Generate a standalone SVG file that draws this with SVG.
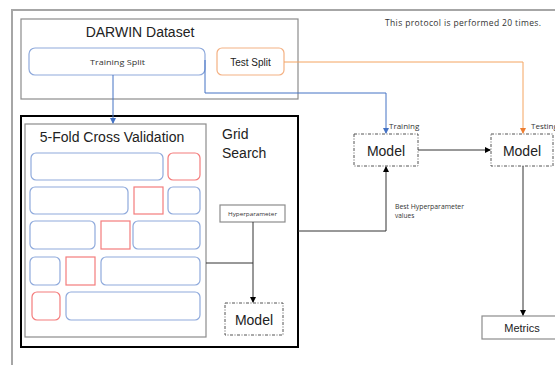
<svg xmlns="http://www.w3.org/2000/svg" width="555" height="365" viewBox="0 0 555 365">
  <defs>
    <marker id="ah-blue" markerWidth="6" markerHeight="6" refX="5" refY="3" orient="auto" markerUnits="userSpaceOnUse">
      <path d="M0,0 L6,3 L0,6 Z" fill="#4472c4"/>
    </marker>
    <marker id="ah-orange" markerWidth="6" markerHeight="6" refX="5" refY="3" orient="auto" markerUnits="userSpaceOnUse">
      <path d="M0,0 L6,3 L0,6 Z" fill="#ed7d31"/>
    </marker>
    <marker id="ah-black" markerWidth="6" markerHeight="6" refX="5" refY="3" orient="auto" markerUnits="userSpaceOnUse">
      <path d="M0,0 L6,3 L0,6 Z" fill="#000"/>
    </marker>
  </defs>
  <style>
    text { font-family: "Liberation Sans", Arial, sans-serif; fill: #222; }
    .small { font-family: "Open Sans", "Liberation Sans", sans-serif; fill: #333; }
    .frame { fill: none; stroke: #a6a6a6; stroke-width: 2; }
    .gray { fill: #fff; stroke: #8c8c8c; stroke-width: 1.2; }
    .fold-b { fill: #fff; stroke: #8faadc; stroke-width: 1.2; }
    .fold-r { fill: #fff; stroke: #f47c7c; stroke-width: 1.2; }
    .dash { fill: #fff; stroke: #555; stroke-width: 1; stroke-dasharray: 3 1.5 1 1.5; }
    .c-blue { fill: none; stroke: #4472c4; stroke-width: 1; }
    .c-orange { fill: none; stroke: #f4a460; stroke-width: 1; }
    .c-black { fill: none; stroke: #333; stroke-width: 1; }
  </style>

  <rect width="555" height="365" fill="#fff"/>

  <!-- outer frame -->
  <path class="frame" d="M12,365 V10 H555"/>
  <text class="small" x="385" y="26" font-size="8.5" textLength="156" lengthAdjust="spacing">This protocol  is performed  20 times.</text>

  <g id="darwin-dataset">
    <rect class="gray" x="21" y="19" width="277" height="80"/>
    <text x="140" y="37" font-size="14" text-anchor="middle">DARWIN Dataset</text>
  </g>

  <g id="training-split">
    <rect class="fold-b" x="29" y="48" width="176" height="27" rx="6"/>
    <text class="small" x="90" y="65" font-size="8" textLength="55" lengthAdjust="spacingAndGlyphs">Training Split</text>
  </g>

  <g id="test-split">
    <rect x="217" y="48" width="67" height="27" rx="5" fill="#fff" stroke="#f4b183" stroke-width="1.2"/>
    <text x="250.5" y="66" font-size="10" text-anchor="middle">Test Split</text>
  </g>

  <g id="grid-search">
    <rect x="21" y="116" width="277" height="231" fill="#fff" stroke="#000" stroke-width="2"/>
    <text x="222" y="139" font-size="14">Grid</text>
    <text x="222" y="158" font-size="14">Search</text>
  </g>

  <g id="cross-validation">
    <rect class="gray" x="25" y="124" width="181" height="213"/>
    <text x="112" y="142" font-size="14" text-anchor="middle">5-Fold Cross Validation</text>
    <!-- fold 1 -->
    <rect class="fold-b" x="31" y="153" width="132" height="27" rx="5"/>
    <rect class="fold-r" x="168" y="153" width="32" height="27" rx="5"/>
    <!-- fold 2 -->
    <rect class="fold-b" x="30" y="187" width="98" height="27" rx="5"/>
    <rect class="fold-r" x="134" y="187" width="29" height="27"/>
    <rect class="fold-b" x="168" y="187" width="32" height="27" rx="5"/>
    <!-- fold 3 -->
    <rect class="fold-b" x="30" y="221" width="65" height="28" rx="5"/>
    <rect class="fold-r" x="101" y="221" width="29" height="28"/>
    <rect class="fold-b" x="133" y="221" width="67" height="28" rx="5"/>
    <!-- fold 4 -->
    <rect class="fold-b" x="30" y="257" width="30" height="28" rx="5"/>
    <rect class="fold-r" x="66" y="257" width="29" height="28"/>
    <rect class="fold-b" x="101" y="257" width="99" height="28" rx="5"/>
    <!-- fold 5 -->
    <rect class="fold-r" x="32" y="292" width="28" height="28" rx="5"/>
    <rect class="fold-b" x="66" y="292" width="134" height="28" rx="5"/>
  </g>

  <g id="hyperparameter">
    <rect class="gray" x="220" y="205" width="65" height="17"/>
    <text class="small" x="228" y="216" font-size="6" textLength="49" lengthAdjust="spacingAndGlyphs">Hyperparameter</text>
  </g>

  <g id="model-inner">
    <rect class="dash" x="225" y="303" width="58" height="32"/>
    <text x="254" y="325" font-size="14" text-anchor="middle">Model</text>
  </g>

  <g id="model-training">
    <rect class="dash" x="354" y="134" width="64" height="32"/>
    <text x="386" y="156" font-size="14" text-anchor="middle">Model</text>
    <text class="small" x="389" y="129" font-size="8">Training</text>
  </g>

  <g id="model-testing">
    <rect class="dash" x="491" y="134" width="62" height="32"/>
    <text x="522" y="156" font-size="14" text-anchor="middle">Model</text>
    <text class="small" x="531" y="129" font-size="8">Testing</text>
  </g>

  <g id="metrics">
    <rect class="gray" x="482" y="316" width="80" height="23"/>
    <text x="522" y="332" font-size="11" text-anchor="middle">Metrics</text>
  </g>

  <g id="connectors">
    <!-- training split into cross validation -->
    <path class="c-blue" d="M113,75 V123" marker-end="url(#ah-blue)"/>
    <!-- training split to training model -->
    <path class="c-blue" d="M205,60 V93 H386 V133" marker-end="url(#ah-blue)"/>
    <!-- test split to testing model -->
    <path class="c-orange" d="M284,62 H523 V133" stroke="#ed7d31" marker-end="url(#ah-orange)"/>
    <!-- cross validation and hyperparameter into inner model -->
    <path class="c-black" d="M206,263 H253"/>
    <path class="c-black" d="M253,222 V302" marker-end="url(#ah-black)"/>
    <!-- best hyperparameter values -->
    <path class="c-black" d="M298,231 H386 V167" stroke-width="1.5" marker-end="url(#ah-black)"/>
    <text class="small" x="395" y="209" font-size="6.5" textLength="69" lengthAdjust="spacingAndGlyphs">Best Hyperparameter</text>
    <text class="small" x="395" y="218" font-size="6.5">values</text>
    <!-- training model to testing model -->
    <path class="c-black" d="M418,150 H490" marker-end="url(#ah-black)"/>
    <!-- testing model to metrics -->
    <path class="c-black" d="M523,166 V315" marker-end="url(#ah-black)"/>
  </g>
</svg>
